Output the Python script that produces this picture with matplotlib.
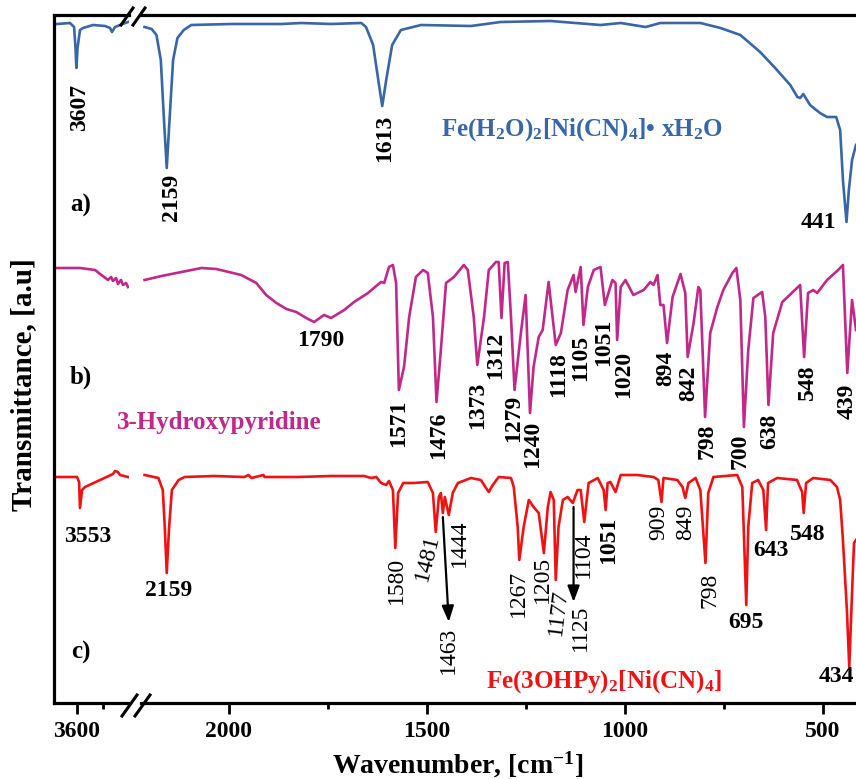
import matplotlib.pyplot as plt
import numpy as np
from matplotlib.lines import Line2D

plt.rcParams['font.family'] = ['Liberation Serif', 'DejaVu Serif']
plt.rcParams['font.weight'] = 'bold'
plt.rcParams['mathtext.fontset'] = 'custom'
plt.rcParams['mathtext.rm'] = 'Liberation Serif:bold'
plt.rcParams['mathtext.it'] = 'Liberation Serif:italic:bold'
plt.rcParams['mathtext.bf'] = 'Liberation Serif:bold'

# spectra: (wavenumber cm-1, transmittance a.u.)
# hi = 3780-3200 segment, lo = 2220-417 segment
a_hi = [(3756, 67.9), (3655, 68.0), (3623, 67.6), (3612, 65.5), (3605, 63.5), (3596, 65.5),
        (3577, 67.3), (3553, 67.5), (3475, 67.8), (3381, 67.7), (3342, 67.5), (3327, 67.1),
        (3303, 67.6), (3264, 67.8), (3202, 68.1)]
a_lo = [(2213, 67.6), (2195, 67.4), (2183, 66.8), (2172, 64.3), (2164, 58.3), (2157, 53.5),
        (2150, 58.3), (2141, 64.3), (2130, 66.5), (2114, 67.3), (2095, 67.8), (1994, 67.9),
        (1868, 67.9), (1817, 68.0), (1742, 67.9), (1666, 68.0), (1654, 67.6), (1636, 65.8),
        (1623, 62.3), (1613, 59.7), (1603, 62.3), (1588, 65.8), (1566, 67.3), (1515, 67.8),
        (1389, 67.7), (1314, 68.1), (1188, 68.2), (1062, 67.8), (1011, 68.0), (948, 67.6),
        (911, 68.0), (810, 68.0), (759, 67.5), (709, 66.8), (659, 65.1), (621, 63.5),
        (583, 61.8), (565, 60.6), (558, 60.5), (550, 60.9), (533, 59.8), (508, 59.0),
        (490, 58.6), (467, 58.6), (457, 57.3), (450, 52.3), (441, 48.1), (435, 51.3),
        (427, 54.3), (417, 55.8)]

b_hi = [(3756, 43.5), (3577, 43.5), (3459, 43.3), (3420, 42.9), (3358, 42.3), (3334, 42.6),
        (3319, 42.2), (3295, 42.5), (3280, 41.9), (3256, 42.3), (3241, 41.8), (3217, 42.0),
        (3202, 41.6)]
b_lo = [(2213, 42.3), (2170, 42.7), (2120, 43.1), (2069, 43.5), (2032, 43.4), (1969, 42.8),
        (1931, 42.0), (1906, 40.8), (1880, 40.0), (1855, 39.4), (1830, 39.1), (1805, 38.5),
        (1785, 38.1), (1760, 38.8), (1742, 38.5), (1709, 39.3), (1684, 40.1), (1649, 41.0),
        (1616, 42.1), (1608, 42.0), (1596, 43.6), (1586, 43.8), (1578, 42.0), (1571, 31.3),
        (1558, 33.6), (1545, 38.6), (1528, 42.6), (1510, 43.3), (1498, 43.0), (1485, 38.6),
        (1476, 30.1), (1465, 35.3), (1452, 42.0), (1432, 42.6), (1407, 43.8), (1397, 43.3),
        (1382, 38.6), (1373, 33.8), (1356, 38.6), (1344, 43.3), (1326, 44.1), (1319, 44.1),
        (1312, 38.5), (1304, 44.0), (1296, 44.1), (1288, 38.6), (1279, 31.3), (1263, 37.0),
        (1251, 40.8), (1240, 29.0), (1231, 33.6), (1218, 36.6), (1208, 37.3), (1193, 42.1),
        (1175, 35.8), (1162, 37.0), (1145, 41.3), (1130, 42.8), (1125, 41.1), (1112, 43.6),
        (1105, 37.8), (1094, 41.6), (1079, 43.3), (1062, 43.6), (1051, 39.8), (1032, 42.3),
        (1024, 42.0), (1020, 36.3), (1011, 41.6), (999, 42.3), (979, 40.8), (953, 41.3),
        (936, 42.1), (928, 41.8), (918, 42.8), (911, 39.8), (903, 39.8), (894, 36.0),
        (880, 40.6), (860, 42.9), (848, 41.0), (842, 34.6), (827, 38.0), (815, 41.6),
        (810, 41.3), (798, 28.6), (785, 37.0), (767, 39.6), (752, 41.3), (729, 43.0),
        (719, 43.5), (709, 40.3), (700, 27.6), (689, 35.3), (676, 40.5), (654, 41.1),
        (646, 38.6), (638, 29.8), (626, 37.0), (603, 40.1), (558, 41.8), (548, 34.6),
        (538, 41.0), (525, 41.3), (515, 41.0), (490, 42.3), (462, 43.3), (450, 43.8),
        (439, 33.0), (427, 40.3), (417, 37.3)]

c_hi = [(3756, 22.6), (3600, 22.6), (3584, 22.1), (3577, 19.5), (3561, 21.3), (3538, 21.6),
        (3420, 22.3), (3319, 22.9), (3303, 23.2), (3280, 23.1), (3264, 22.8), (3202, 22.6)]
c_lo = [(2213, 22.8), (2178, 22.5), (2167, 21.3), (2162, 17.6), (2157, 13.0), (2151, 17.6),
        (2144, 21.3), (2127, 22.3), (2112, 22.6), (2037, 22.7), (1961, 22.6), (1951, 22.8),
        (1943, 22.5), (1913, 22.8), (1910, 22.6), (1825, 22.6), (1742, 22.7), (1659, 22.7),
        (1641, 22.5), (1628, 22.6), (1616, 22.0), (1603, 21.8), (1596, 22.2), (1586, 21.3),
        (1580, 15.5), (1573, 21.0), (1560, 22.0), (1533, 22.0), (1498, 22.1), (1485, 21.0),
        (1478, 17.1), (1470, 20.6), (1465, 21.0), (1460, 19.0), (1455, 20.6), (1445, 18.8),
        (1435, 21.0), (1422, 22.0), (1389, 22.5), (1364, 22.3), (1351, 21.5), (1344, 21.1),
        (1334, 21.8), (1319, 22.6), (1288, 22.5), (1281, 21.6), (1271, 17.6), (1267, 14.3),
        (1256, 17.6), (1243, 20.3), (1231, 19.6), (1218, 19.0), (1205, 15.0), (1195, 19.6),
        (1188, 21.1), (1180, 20.3), (1175, 12.3), (1168, 17.6), (1157, 20.3), (1145, 20.6),
        (1132, 20.0), (1120, 21.3), (1112, 21.3), (1103, 18.1), (1092, 22.0), (1069, 22.5),
        (1054, 21.3), (1049, 19.3), (1044, 22.0), (1037, 22.1), (1024, 21.1), (1011, 22.8),
        (969, 22.8), (928, 22.6), (916, 22.3), (908, 20.1), (903, 22.5), (868, 22.3),
        (855, 21.6), (848, 20.5), (840, 22.0), (822, 22.5), (810, 21.3), (797, 14.0),
        (790, 21.0), (777, 22.6), (717, 22.8), (704, 21.6), (694, 9.8), (689, 17.6),
        (679, 22.0), (664, 22.3), (651, 21.3), (644, 17.3), (639, 22.0), (616, 22.5),
        (566, 22.3), (553, 21.1), (549, 19.0), (543, 22.0), (525, 22.5), (482, 22.3),
        (465, 21.6), (457, 20.3), (450, 16.3), (440, 9.3), (434, 3.6), (427, 11.0),
        (422, 16.0), (417, 16.3)]

col_a = '#3866a6'
col_b = '#c0288a'
col_c = '#f01212'

W, H = 856, 779
fig = plt.figure(figsize=(W / 100, H / 100), dpi=100)
ax1 = fig.add_axes([54 / W, 76 / H, 75 / W, 688 / H])
ax2 = fig.add_axes([141 / W, 76 / H, 715 / W, 688 / H], sharey=ax1)

for ax, sets in [(ax1, [(a_hi, col_a), (b_hi, col_b), (c_hi, col_c)]),
                 (ax2, [(a_lo, col_a), (b_lo, col_b), (c_lo, col_c)])]:
    for pts, col in sets:
        x, y = np.array(pts).T
        ax.plot(x, y, color=col, lw=1.9)
    ax.set_facecolor('none')
    ax.spines['right'].set_visible(False)
    for s in ['top', 'bottom', 'left']:
        ax.spines[s].set_linewidth(2.3)
    ax.tick_params(axis='x', which='major', direction='out', length=8, width=2,
                   labelsize=17, pad=5)
    ax.tick_params(axis='x', which='minor', direction='out', length=4, width=2)
    ax.tick_params(axis='y', left=False, labelleft=False)
ax2.spines['left'].set_visible(False)

ax1.set_ylim(0, 68.8)
ax1.set_xlim(3780, 3194)
ax1.set_xticks([3600])
ax1.set_xticks([3400], minor=True)
ax2.set_xlim(2222, 417)
ax2.set_xticks([2000, 1500, 1000, 500])
ax2.set_xticks([1750, 1250, 750], minor=True)

# axis break marks
for (x1, y1), (x2, y2) in [((122, 716), (137, 695)), ((135, 716), (150, 695)),
                           ((121, 25), (133, 8)), ((133, 25), (145, 8))]:
    fig.add_artist(Line2D([x1 / W, x2 / W], [1 - y1 / H, 1 - y2 / H],
                          transform=fig.transFigure, color='black', lw=2.2))

fig.text(458 / W, 1 - 765 / H, 'Wavenumber, [cm$^{-1}$]', ha='center', va='center', fontsize=20)
fig.text(24 / W, 1 - 385 / H, 'Transmittance, [a.u]', ha='center', va='center',
         rotation=90, fontsize=21)


def lbl(ax, s, x, y, rot=90, color='black', weight='bold', size=17, ha='center'):
    ax.text(x, y, s, rotation=rot, color=color, fontweight=weight, fontsize=size,
            ha=ha, va='center', rotation_mode='anchor' if rot not in (0, 90) else 'default')


# a)
lbl(ax1, '3607', 3577, 59.6)
lbl(ax1, 'a)', 3569, 49.8, rot=0, size=18)
lbl(ax2, '2159', 2145, 50.6)
lbl(ax2, '1613', 1608, 56.5)
lbl(ax2, '441', 513, 48.1, rot=0)
lbl(ax2, 'Fe(H$_2$O)$_2$[Ni(CN)$_4$]\u2022 xH$_2$O', 1465, 57.3, rot=0, color=col_a,
    size=18, ha='left')

# b)
lbl(ax1, 'b)', 3569, 32.6, rot=0, size=18)
lbl(ax2, '3-Hydroxypyridine', 2283, 28.0, rot=0, color=col_b, size=18, ha='left')
lbl(ax2, '1790', 1767, 36.3, rot=0)
b_labels = [('1571', 1571, 28.0), ('1476', 1470, 26.8), ('1373', 1372, 29.8),
            ('1312', 1326, 34.8), ('1279', 1281, 28.5), ('1240', 1233, 25.9),
            ('1118', 1168, 32.8), ('1105', 1112, 34.5), ('1051', 1054, 36.1),
            ('1020', 1004, 32.9), ('894', 898, 33.5), ('842', 840, 32.0),
            ('798', 792, 26.2), ('700', 709, 25.2), ('638', 634, 27.2),
            ('548', 540, 32.1), ('439', 440, 30.2)]
for s, x, y in b_labels:
    lbl(ax2, s, x, y)

# c)
lbl(ax1, '3553', 3514, 16.6, rot=0)
lbl(ax1, 'c)', 3569, 5.1, rot=0, size=18)
lbl(ax2, '2159', 2152, 11.2, rot=0)
c_labels = [('1580', 1578, 12.3, 90), ('1481', 1498, 14.5, 76), ('1444', 1419, 16.0, 90),
            ('1463', 1445, 5.3, 90), ('1267', 1268, 11.0, 90), ('1205', 1208, 12.4, 90),
            ('1177', 1168, 9.1, 83), ('1125', 1112, 7.5, 90), ('1104', 1105, 14.8, 90),
            ('909', 916, 18.1, 90), ('849', 848, 18.1, 90), ('798', 785, 11.3, 90)]
for s, x, y, r in c_labels:
    lbl(ax2, s, x, y, rot=r, weight='normal')
lbl(ax2, '1051', 1042, 16.3)
lbl(ax2, '695', 694, 8.0, rot=0)
lbl(ax2, '643', 631, 15.3, rot=0)
lbl(ax2, '548', 538, 16.8, rot=0)
lbl(ax2, '434', 467, 2.6, rot=0)
lbl(ax2, 'Fe(3OHPy)$_2$[Ni(CN)$_4$]', 1351, 2.1, rot=0, color=col_c, size=18, ha='left')

arrow = dict(arrowstyle='-|>,head_length=0.8,head_width=0.3', color='black', lw=1.6,
             mutation_scale=12, shrinkA=0, shrinkB=0)
ax2.annotate('', xy=(1445, 8.1), xytext=(1460, 18.6), arrowprops=arrow)
ax2.annotate('', xy=(1130, 10.1), xytext=(1130, 19.6), arrowprops=arrow)

fig.savefig('out.png', dpi=100)
